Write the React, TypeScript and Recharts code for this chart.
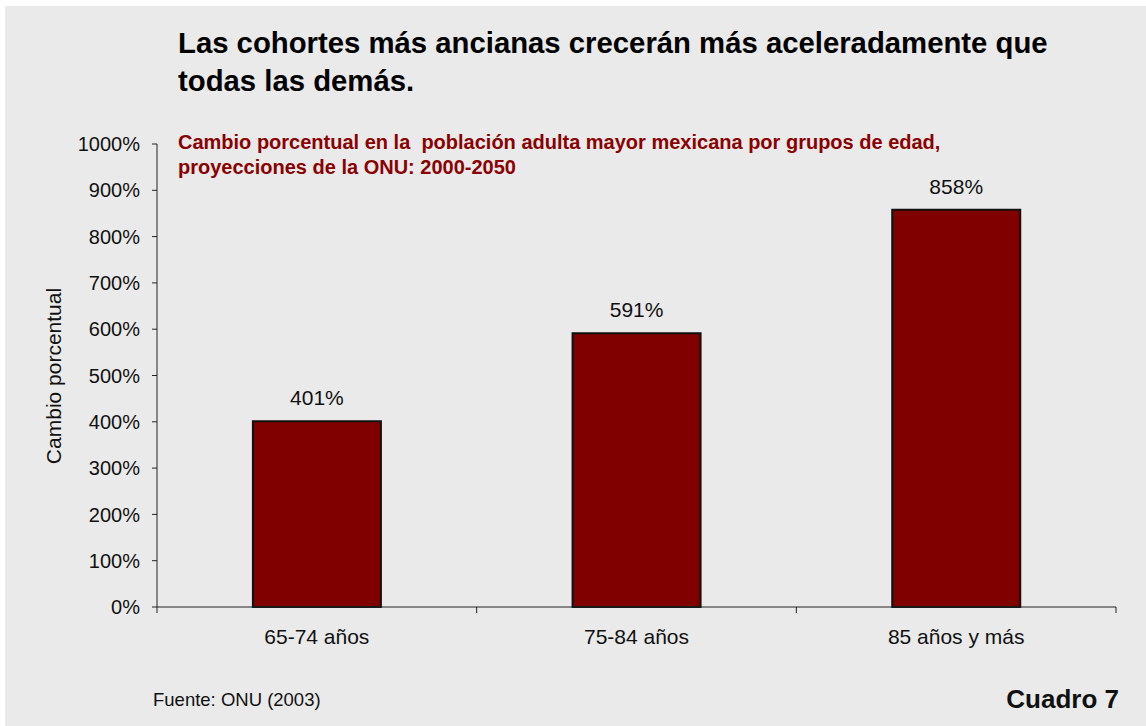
import React from 'react';
import { BarChart, Bar, XAxis, YAxis, LabelList } from 'recharts';

const grupos = ['65-74 años', '75-84 años', '85 años y más'];
const cambio = [401, 591, 858];
const yTicks = [0, 100, 200, 300, 400, 500, 600, 700, 800, 900, 1000];

const data = grupos.map((g, i) => ({ grupo: g, cambio: cambio[i] }));

const FONT = '"Liberation Sans", Arial, Helvetica, sans-serif';
const INK = '#111';

// category label centred in the band, tick marks on the band edges
const CategoryTick = (props: any) => {
  const { x, y, payload, index } = props;
  const half = payload && payload.offset ? payload.offset : 0;
  return (
    <g>
      <line x1={x - half} x2={x - half} y1={y} y2={y + 6} stroke="#222" />
      {index === grupos.length - 1 && (
        <line x1={x + half} x2={x + half} y1={y} y2={y + 6} stroke="#222" />
      )}
      <text x={x} y={y + 22} dy="0.71em" textAnchor="middle" fill={INK} fontSize={21} fontFamily={FONT}>
        {payload.value}
      </text>
    </g>
  );
};

export default function App() {
  return (
    <div style={{ position: 'relative', width: 1146, height: 726, background: '#fff', fontFamily: FONT, overflow: 'hidden' }}>
      <style>{'body{margin:0}'}</style>
      <div style={{ position: 'absolute', left: 5, top: 6, right: 0, bottom: 0, background: '#eaeaea' }} />

      <div style={{ position: 'absolute', left: 178, top: 24, fontSize: 29.3, fontWeight: 'bold', lineHeight: '37.7px', color: '#000', width: 940, whiteSpace: 'nowrap' }}>
        Las cohortes más ancianas crecerán más aceleradamente que
        <br />
        todas las demás.
      </div>

      <div style={{ position: 'absolute', left: 178, top: 130, fontSize: 20, fontWeight: 'bold', lineHeight: '25px', color: '#8b0000', width: 900, whiteSpace: 'pre' }}>
        {'Cambio porcentual en la  población adulta mayor mexicana por grupos de edad,'}
        <br />
        {'proyecciones de la ONU: 2000-2050'}
      </div>

      <div style={{ position: 'absolute', left: 54, top: 376, transform: 'translate(-50%, -50%) rotate(-90deg)', fontSize: 21, color: INK, whiteSpace: 'nowrap' }}>
        Cambio porcentual
      </div>

      <div style={{ position: 'absolute', left: 0, top: 0 }}>
        <BarChart width={1146} height={726} data={data} margin={{ top: 144, right: 30, bottom: 89, left: 97 }} barCategoryGap="30%">
          <XAxis
            dataKey="grupo"
            axisLine={{ stroke: '#222' }}
            tickLine={false}
            tickSize={0}
            tickMargin={0}
            height={30}
            interval={0}
            tick={(p: any) => <CategoryTick {...p} />}
          />
          <YAxis
            domain={[0, 1000]}
            ticks={yTicks}
            interval={0}
            width={60}
            axisLine={{ stroke: '#222' }}
            tickLine={{ stroke: '#222' }}
            tickSize={5}
            tickMargin={12}
            tickFormatter={(v: number) => `${v}%`}
            tick={{ fill: INK, fontSize: 20, fontFamily: FONT }}
          />
          <Bar dataKey="cambio" fill="#800000" stroke="#111" strokeWidth={2} isAnimationActive={false}>
            <LabelList
              dataKey="cambio"
              position="top"
              offset={16}
              formatter={(v: any) => `${v}%`}
              style={{ fill: INK, fontSize: 21, fontFamily: FONT }}
            />
          </Bar>
        </BarChart>
      </div>

      <div style={{ position: 'absolute', left: 153, top: 690, fontSize: 18.5, lineHeight: '20px', color: INK }}>
        Fuente: ONU (2003)
      </div>

      <div style={{ position: 'absolute', right: 27, top: 684, fontSize: 26, fontWeight: 'bold', lineHeight: '30px', color: INK }}>
        Cuadro 7
      </div>
    </div>
  );
}
